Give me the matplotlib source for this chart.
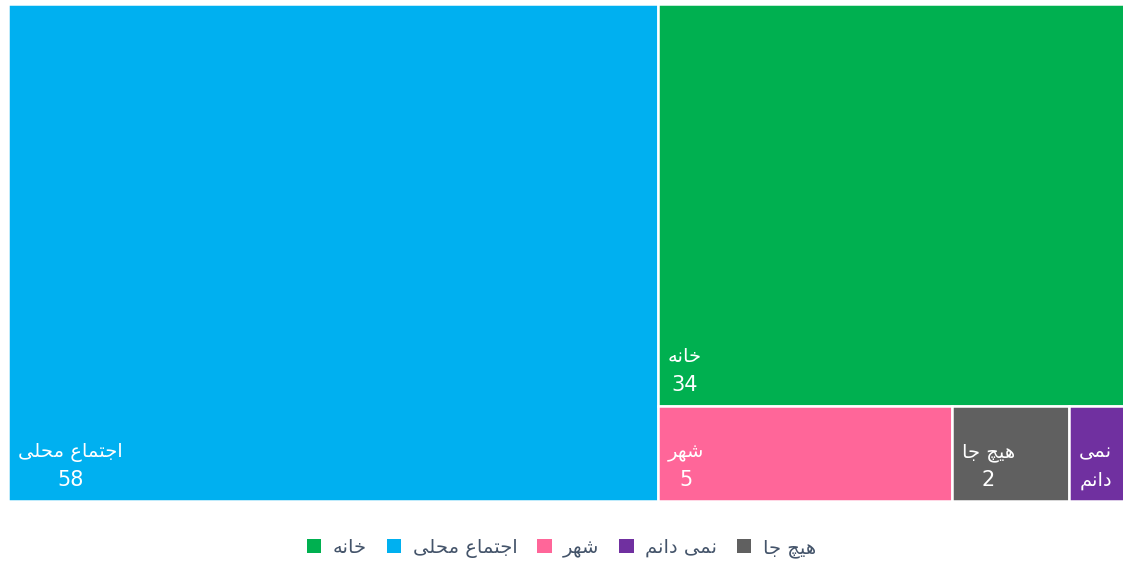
import matplotlib
matplotlib.use("Agg")
import matplotlib.pyplot as plt
from matplotlib.patches import Rectangle, Patch

# --- data (legend / series order) ---
categories = ["خانه", "اجتماع محلی", "شهر", "نمی دانم", "هیچ جا"]
values = [34, 58, 5, 1, 2]
colors = ["#00B050", "#00B0F0", "#FF6699", "#7030A0", "#606060"]

# --- minimal Arabic/Persian shaping (matplotlib has no complex text layout) ---
FORMS = {
    # letter: (isolated, final, initial, medial)
    "ا": ("\uFE8D", "\uFE8E", None, None),
    "د": ("\uFEA9", "\uFEAA", None, None),
    "ر": ("\uFEAD", "\uFEAE", None, None),
    "ج": ("\uFE9D", "\uFE9E", "\uFE9F", "\uFEA0"),
    "چ": ("\uFB7A", "\uFB7B", "\uFB7C", "\uFB7D"),
    "ت": ("\uFE95", "\uFE96", "\uFE97", "\uFE98"),
    "م": ("\uFEE1", "\uFEE2", "\uFEE3", "\uFEE4"),
    "ع": ("\uFEC9", "\uFECA", "\uFECB", "\uFECC"),
    "ح": ("\uFEA1", "\uFEA2", "\uFEA3", "\uFEA4"),
    "خ": ("\uFEA5", "\uFEA6", "\uFEA7", "\uFEA8"),
    "ل": ("\uFEDD", "\uFEDE", "\uFEDF", "\uFEE0"),
    "ی": ("\uFBFC", "\uFBFD", "\uFBFE", "\uFBFF"),
    "ن": ("\uFEE5", "\uFEE6", "\uFEE7", "\uFEE8"),
    "ه": ("\uFEE9", "\uFEEA", "\uFEEB", "\uFEEC"),
    "ش": ("\uFEB5", "\uFEB6", "\uFEB7", "\uFEB8"),
}


def shape(text):
    out = []
    for i, c in enumerate(text):
        if c not in FORMS:
            out.append(c)
            continue
        prev = text[i - 1] if i > 0 else None
        nxt = text[i + 1] if i + 1 < len(text) else None
        join_prev = prev in FORMS and FORMS[prev][2] is not None
        join_next = nxt in FORMS and FORMS[c][2] is not None
        iso, fin, ini, med = FORMS[c]
        if join_prev and join_next:
            out.append(med)
        elif join_prev:
            out.append(fin)
        elif join_next:
            out.append(ini)
        else:
            out.append(iso)
    return "".join(reversed(out))


# --- treemap layout: greedy slice along the longer side ---
W, H = 1120, 497  # axes size in pixels (right edge runs just past the image)
order = sorted(range(len(values)), key=lambda i: -values[i])
rects = {}
x, y, w, h = 0.0, 0.0, float(W), float(H)
remaining = float(sum(values))
for k, i in enumerate(order):
    frac = values[i] / remaining
    if k == len(order) - 1:
        rects[i] = (x, y, w, h)
        break
    if w >= h:
        rects[i] = (x, y, w * frac, h)
        x, w = x + w * frac, w * (1 - frac)
    else:
        rects[i] = (x, y, w, h * frac)
        y, h = y + h * frac, h * (1 - frac)
    remaining -= values[i]

plt.rcParams["font.family"] = ["DejaVu Sans"]
fig = plt.figure(figsize=(11.23, 5.63), dpi=100)
ax = fig.add_axes([8 / 1123, 62 / 563, W / 1123, H / 563])
ax.set_xlim(0, W)
ax.set_ylim(H, 0)
ax.axis("off")
renderer = fig.canvas.get_renderer()

for i, (rx, ry, rw, rh) in rects.items():
    ax.add_patch(Rectangle((rx, ry), rw, rh, facecolor=colors[i],
                           edgecolor="white", linewidth=1.8))
    if rw > 80:
        lines = [(shape(categories[i]), 14), (str(values[i]), 15)]
    else:
        lines = [(shape(p), 14) for p in categories[i].split(" ")]
    top_y = ry + rh - 44
    bot_y = ry + rh - 15
    # measure the widest line so each line is centred inside the block
    widths = []
    for txt, fs in lines:
        t = ax.text(0, 0, txt, fontsize=fs)
        widths.append(t.get_window_extent(renderer).width)
        t.remove()
    cx = rx + 10 + max(widths) / 2
    for (txt, fs), ly in zip(lines, [top_y, bot_y]):
        ax.text(cx, ly, txt, color="white", fontsize=fs,
                ha="center", va="baseline")

handles = [Patch(facecolor=c, edgecolor="none") for c in colors]
fig.legend(handles, [shape(c) for c in categories], loc="center",
           bbox_to_anchor=(0.5, 15 / 563), ncol=5, frameon=False,
           fontsize=14, handlelength=0.75, handleheight=0.75,
           handletextpad=0.6, columnspacing=1.0, labelcolor="#44546A")

fig.savefig("out.png", dpi=100)
